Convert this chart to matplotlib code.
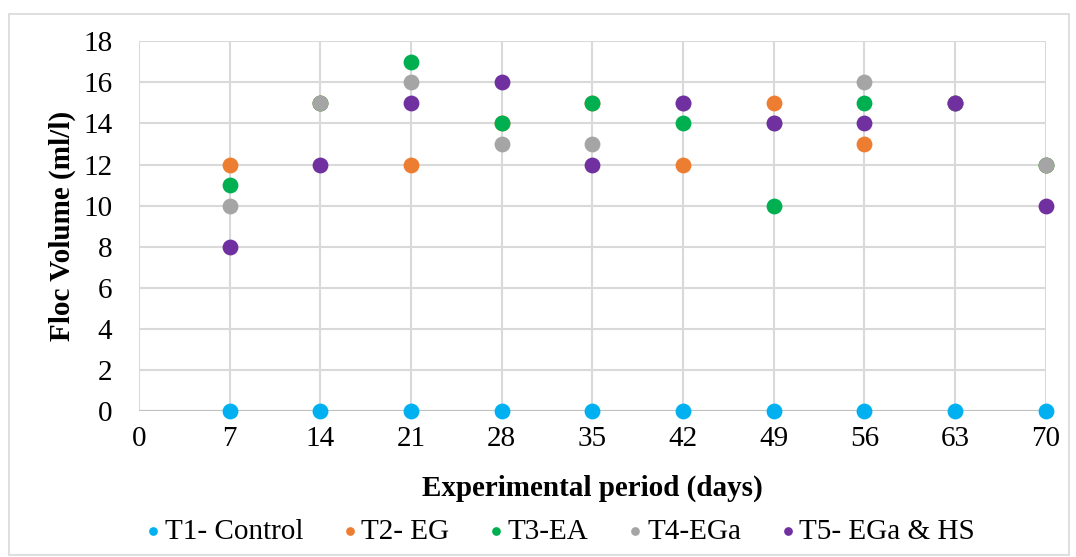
import matplotlib.pyplot as plt
from matplotlib.patches import Rectangle

plt.rcParams['font.family'] = ['Liberation Serif', 'DejaVu Serif']

days = [7, 14, 21, 28, 35, 42, 49, 56, 63, 70]
t1_control = [0, 0, 0, 0, 0, 0, 0, 0, 0, 0]
t2_eg = [12, 15, 12, 14, 15, 12, 15, 13, 15, 12]
t3_ea = [11, 15, 17, 14, 15, 14, 10, 15, 15, 12]
t4_ega = [10, 15, 16, 13, 13, 15, 14, 16, 15, 12]
t5_ega_hs = [8, 12, 15, 16, 12, 15, 14, 14, 15, 10]

series = [
    ("T1- Control", t1_control, "#00b0f0"),
    ("T2- EG", t2_eg, "#ed7d31"),
    ("T3-EA", t3_ea, "#00b050"),
    ("T4-EGa", t4_ega, "#a5a5a5"),
    ("T5- EGa & HS", t5_ega_hs, "#7030a0"),
]

fig = plt.figure(figsize=(10.76, 5.57), dpi=100)
ax = fig.add_axes([0.129, 0.262, 0.843, 0.664])

# outer chart border
fig.patches.append(Rectangle((9 / 1076, 2 / 557), 1060 / 1076, 541 / 557,
                             transform=fig.transFigure, fill=False,
                             edgecolor="#d9d9d9", linewidth=1.2))

for name, vals, col in series:
    ax.scatter(days, vals, s=130, color=col, label=name, zorder=3,
               linewidths=0, clip_on=False)

ax.set_xlim(0, 70)
ax.set_ylim(0, 18)
ax.set_xticks(range(0, 71, 7))
ax.set_yticks(range(0, 19, 2))
ax.grid(True, color="#d9d9d9", linewidth=1.5, zorder=0)
ax.set_axisbelow(True)
for s in ax.spines.values():
    s.set_visible(False)
ax.axhline(0, color="#bfbfbf", linewidth=1.5, zorder=1)
ax.tick_params(length=0, labelsize=21)
ax.tick_params(axis="x", pad=11)
ax.tick_params(axis="y", pad=19)

ax.set_xlabel("Experimental period (days)", fontsize=21, fontweight="bold", labelpad=16)
ax.set_ylabel("Floc Volume (ml/l)", fontsize=21, fontweight="bold", labelpad=5)

fig.legend(loc="center", bbox_to_anchor=(0.516, 0.045), ncol=5, frameon=False,
           fontsize=21, handletextpad=-0.2, columnspacing=1.0, markerscale=0.55,
           handlelength=1.2)

fig.savefig("out.png", dpi=100)
